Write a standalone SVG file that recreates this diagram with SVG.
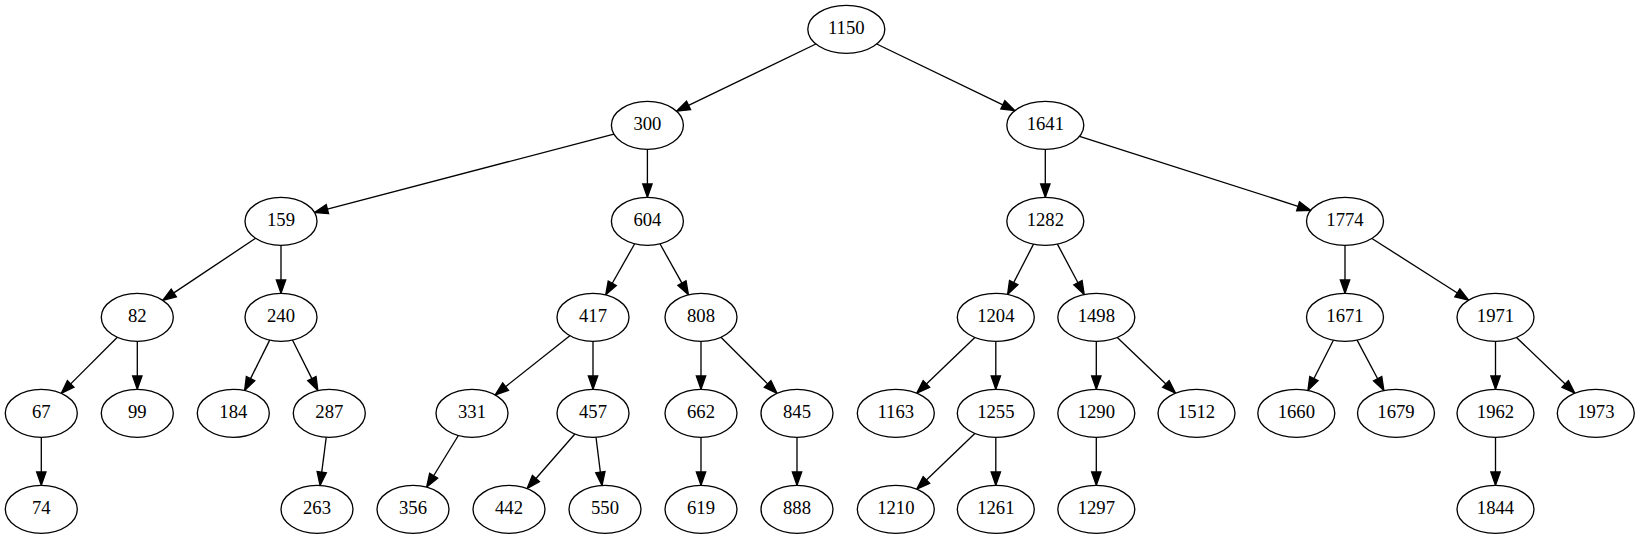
<svg xmlns="http://www.w3.org/2000/svg" width="1639" height="539" viewBox="0 0 1639 539">
<style>
.node ellipse{fill:#fff;stroke:#000;stroke-width:1.33}
.node text{font-family:"Liberation Serif","Times New Roman",serif;font-size:18.67px;text-anchor:middle;fill:#000}
#edges line{stroke:#000;stroke-width:1.33;fill:none;marker-end:url(#arr)}
</style>
<defs>
<marker id="arr" markerUnits="userSpaceOnUse" markerWidth="16" markerHeight="12" viewBox="0 0 16 12" refX="0" refY="6" orient="auto" overflow="visible">
<path d="M0,1.33 L13.33,6 L0,10.67 z" fill="#000" stroke="#000" stroke-width="1.33"/>
</marker>
</defs>
<rect width="1639" height="539" fill="#fff"/>
<g id="edges">
<line x1="815.86" y1="43.99" x2="688.56" y2="105.43"/>
<line x1="876.74" y1="43.99" x2="1002.85" y2="104.82"/>
<line x1="613.89" y1="134.08" x2="327.40" y2="209.14"/>
<line x1="647.4" y1="149.3" x2="647.4" y2="184.0"/>
<line x1="1045.3" y1="149.3" x2="1045.3" y2="184.0"/>
<line x1="1079.55" y1="136.27" x2="1298.06" y2="206.26"/>
<line x1="255.57" y1="238.29" x2="173.81" y2="292.91"/>
<line x1="281" y1="245.3" x2="281" y2="280.0"/>
<line x1="634.68" y1="243.76" x2="612.29" y2="283.24"/>
<line x1="659.96" y1="243.79" x2="681.94" y2="283.17"/>
<line x1="1033.52" y1="244.15" x2="1013.69" y2="282.60"/>
<line x1="1057.40" y1="244.08" x2="1077.95" y2="282.75"/>
<line x1="1345" y1="245.3" x2="1345" y2="280.0"/>
<line x1="1371.91" y1="238.47" x2="1457.35" y2="292.96"/>
<line x1="117.33" y1="337.27" x2="70.70" y2="383.90"/>
<line x1="137.3" y1="341.3" x2="137.3" y2="376.0"/>
<line x1="269.68" y1="340.08" x2="250.55" y2="378.58"/>
<line x1="292.44" y1="340.03" x2="311.87" y2="378.66"/>
<line x1="326.24" y1="437.21" x2="321.75" y2="472.17"/>
<line x1="569.84" y1="335.67" x2="505.60" y2="386.65"/>
<line x1="593" y1="341.3" x2="593" y2="376.0"/>
<line x1="701" y1="341.3" x2="701" y2="376.0"/>
<line x1="720.97" y1="337.27" x2="767.60" y2="383.90"/>
<line x1="974.83" y1="337.43" x2="926.39" y2="383.94"/>
<line x1="995.8" y1="341.3" x2="995.8" y2="376.0"/>
<line x1="1096.3" y1="341.3" x2="1096.3" y2="376.0"/>
<line x1="1117.29" y1="337.41" x2="1165.89" y2="383.97"/>
<line x1="1333.39" y1="340.18" x2="1313.94" y2="378.53"/>
<line x1="1357.10" y1="340.08" x2="1377.65" y2="378.75"/>
<line x1="1495.5" y1="341.3" x2="1495.5" y2="376.0"/>
<line x1="1516.5" y1="337.41" x2="1565.18" y2="383.97"/>
<line x1="41.3" y1="437.3" x2="41.3" y2="472.0"/>
<line x1="458.35" y1="435.51" x2="433.63" y2="475.73"/>
<line x1="574.86" y1="434.03" x2="535.92" y2="478.54"/>
<line x1="595.99" y1="437.21" x2="600.36" y2="472.16"/>
<line x1="701" y1="437.3" x2="701" y2="472.0"/>
<line x1="797" y1="437.3" x2="797" y2="472.0"/>
<line x1="974.83" y1="433.43" x2="926.39" y2="479.94"/>
<line x1="995.8" y1="437.3" x2="995.8" y2="472.0"/>
<line x1="1096.3" y1="437.3" x2="1096.3" y2="472.0"/>
<line x1="1495.5" y1="437.3" x2="1495.5" y2="472.0"/>
</g>
<g id="n1150" class="node"><ellipse cx="846.3" cy="29.3" rx="38.5" ry="24"/><text x="846.3" y="34.3">1150</text></g>
<g id="n300" class="node"><ellipse cx="647.4" cy="125.3" rx="36" ry="24"/><text x="647.4" y="130.3">300</text></g>
<g id="n1641" class="node"><ellipse cx="1045.3" cy="125.3" rx="38.5" ry="24"/><text x="1045.3" y="130.3">1641</text></g>
<g id="n159" class="node"><ellipse cx="281" cy="221.3" rx="36" ry="24"/><text x="281" y="226.3">159</text></g>
<g id="n604" class="node"><ellipse cx="647.4" cy="221.3" rx="36" ry="24"/><text x="647.4" y="226.3">604</text></g>
<g id="n1282" class="node"><ellipse cx="1045.3" cy="221.3" rx="38.5" ry="24"/><text x="1045.3" y="226.3">1282</text></g>
<g id="n1774" class="node"><ellipse cx="1345" cy="221.3" rx="38.5" ry="24"/><text x="1345" y="226.3">1774</text></g>
<g id="n82" class="node"><ellipse cx="137.3" cy="317.3" rx="36" ry="24"/><text x="137.3" y="322.3">82</text></g>
<g id="n240" class="node"><ellipse cx="281" cy="317.3" rx="36" ry="24"/><text x="281" y="322.3">240</text></g>
<g id="n417" class="node"><ellipse cx="593" cy="317.3" rx="36" ry="24"/><text x="593" y="322.3">417</text></g>
<g id="n808" class="node"><ellipse cx="701" cy="317.3" rx="36" ry="24"/><text x="701" y="322.3">808</text></g>
<g id="n1204" class="node"><ellipse cx="995.8" cy="317.3" rx="38.5" ry="24"/><text x="995.8" y="322.3">1204</text></g>
<g id="n1498" class="node"><ellipse cx="1096.3" cy="317.3" rx="38.5" ry="24"/><text x="1096.3" y="322.3">1498</text></g>
<g id="n1671" class="node"><ellipse cx="1345" cy="317.3" rx="38.5" ry="24"/><text x="1345" y="322.3">1671</text></g>
<g id="n1971" class="node"><ellipse cx="1495.5" cy="317.3" rx="38.5" ry="24"/><text x="1495.5" y="322.3">1971</text></g>
<g id="n67" class="node"><ellipse cx="41.3" cy="413.3" rx="36" ry="24"/><text x="41.3" y="418.3">67</text></g>
<g id="n99" class="node"><ellipse cx="137.3" cy="413.3" rx="36" ry="24"/><text x="137.3" y="418.3">99</text></g>
<g id="n184" class="node"><ellipse cx="233.3" cy="413.3" rx="36" ry="24"/><text x="233.3" y="418.3">184</text></g>
<g id="n287" class="node"><ellipse cx="329.3" cy="413.3" rx="36" ry="24"/><text x="329.3" y="418.3">287</text></g>
<g id="n331" class="node"><ellipse cx="472" cy="413.3" rx="36" ry="24"/><text x="472" y="418.3">331</text></g>
<g id="n457" class="node"><ellipse cx="593" cy="413.3" rx="36" ry="24"/><text x="593" y="418.3">457</text></g>
<g id="n662" class="node"><ellipse cx="701" cy="413.3" rx="36" ry="24"/><text x="701" y="418.3">662</text></g>
<g id="n845" class="node"><ellipse cx="797" cy="413.3" rx="36" ry="24"/><text x="797" y="418.3">845</text></g>
<g id="n1163" class="node"><ellipse cx="895.8" cy="413.3" rx="38.5" ry="24"/><text x="895.8" y="418.3">1163</text></g>
<g id="n1255" class="node"><ellipse cx="995.8" cy="413.3" rx="38.5" ry="24"/><text x="995.8" y="418.3">1255</text></g>
<g id="n1290" class="node"><ellipse cx="1096.3" cy="413.3" rx="38.5" ry="24"/><text x="1096.3" y="418.3">1290</text></g>
<g id="n1512" class="node"><ellipse cx="1196.5" cy="413.3" rx="38.5" ry="24"/><text x="1196.5" y="418.3">1512</text></g>
<g id="n1660" class="node"><ellipse cx="1296.3" cy="413.3" rx="38.5" ry="24"/><text x="1296.3" y="418.3">1660</text></g>
<g id="n1679" class="node"><ellipse cx="1396" cy="413.3" rx="38.5" ry="24"/><text x="1396" y="418.3">1679</text></g>
<g id="n1962" class="node"><ellipse cx="1495.5" cy="413.3" rx="38.5" ry="24"/><text x="1495.5" y="418.3">1962</text></g>
<g id="n1973" class="node"><ellipse cx="1595.8" cy="413.3" rx="38.5" ry="24"/><text x="1595.8" y="418.3">1973</text></g>
<g id="n74" class="node"><ellipse cx="41.3" cy="509.3" rx="36" ry="24"/><text x="41.3" y="514.3">74</text></g>
<g id="n263" class="node"><ellipse cx="317" cy="509.3" rx="36" ry="24"/><text x="317" y="514.3">263</text></g>
<g id="n356" class="node"><ellipse cx="413" cy="509.3" rx="36" ry="24"/><text x="413" y="514.3">356</text></g>
<g id="n442" class="node"><ellipse cx="509" cy="509.3" rx="36" ry="24"/><text x="509" y="514.3">442</text></g>
<g id="n550" class="node"><ellipse cx="605" cy="509.3" rx="36" ry="24"/><text x="605" y="514.3">550</text></g>
<g id="n619" class="node"><ellipse cx="701" cy="509.3" rx="36" ry="24"/><text x="701" y="514.3">619</text></g>
<g id="n888" class="node"><ellipse cx="797" cy="509.3" rx="36" ry="24"/><text x="797" y="514.3">888</text></g>
<g id="n1210" class="node"><ellipse cx="895.8" cy="509.3" rx="38.5" ry="24"/><text x="895.8" y="514.3">1210</text></g>
<g id="n1261" class="node"><ellipse cx="995.8" cy="509.3" rx="38.5" ry="24"/><text x="995.8" y="514.3">1261</text></g>
<g id="n1297" class="node"><ellipse cx="1096.3" cy="509.3" rx="38.5" ry="24"/><text x="1096.3" y="514.3">1297</text></g>
<g id="n1844" class="node"><ellipse cx="1495.5" cy="509.3" rx="38.5" ry="24"/><text x="1495.5" y="514.3">1844</text></g>
</svg>
